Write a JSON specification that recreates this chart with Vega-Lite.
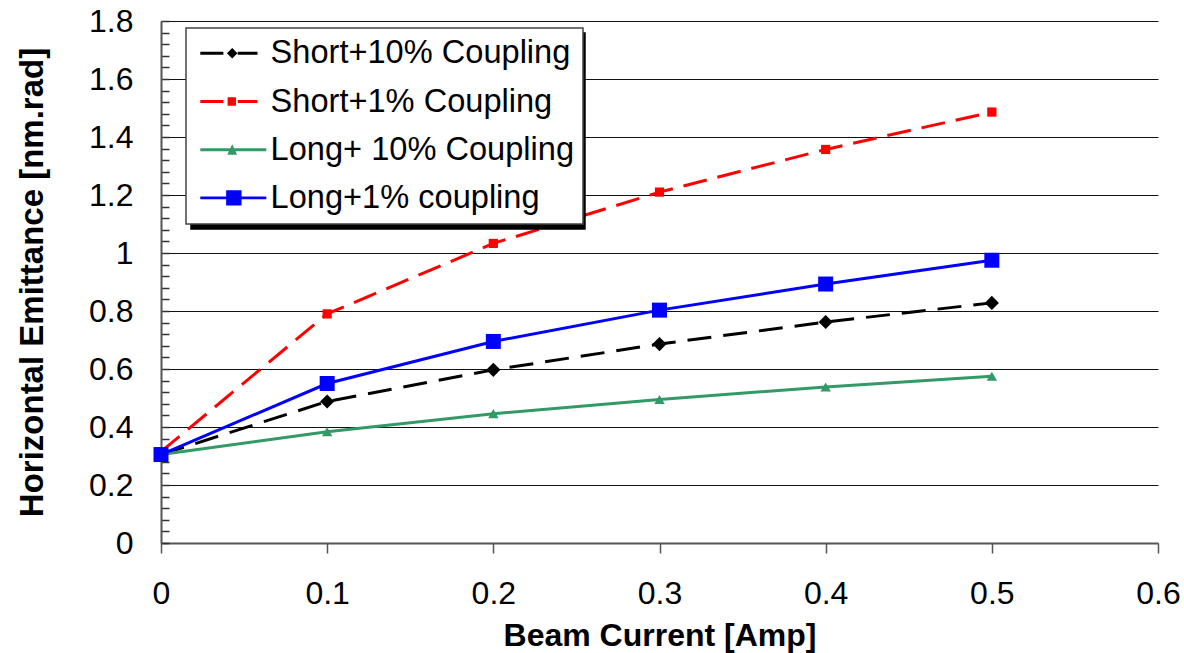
{
  "$schema": "https://vega.github.io/schema/vega-lite/v6.json",
  "width": 997,
  "height": 522,
  "autosize": "none",
  "padding": {"left": 161, "top": 21, "right": 26, "bottom": 110},
  "background": "white",
  "config": {
    "view": {"stroke": null},
    "font": "Liberation Sans",
    "axis": {"labelFont": "Liberation Sans", "titleFont": "Liberation Sans", "labelColor": "#000", "titleColor": "#000"},
    "legend": {"labelFont": "Liberation Sans", "strokeWidth": 1.5}
  },
  "data": {
    "values": [
      {"x": 0, "y": 0.305, "series": "Short+10% Coupling"},
      {"x": 0.1, "y": 0.488, "series": "Short+10% Coupling"},
      {"x": 0.2, "y": 0.597, "series": "Short+10% Coupling"},
      {"x": 0.3, "y": 0.686, "series": "Short+10% Coupling"},
      {"x": 0.4, "y": 0.762, "series": "Short+10% Coupling"},
      {"x": 0.5, "y": 0.828, "series": "Short+10% Coupling"},
      {"x": 0, "y": 0.315, "series": "Short+1% Coupling"},
      {"x": 0.1, "y": 0.79, "series": "Short+1% Coupling"},
      {"x": 0.2, "y": 1.033, "series": "Short+1% Coupling"},
      {"x": 0.3, "y": 1.21, "series": "Short+1% Coupling"},
      {"x": 0.4, "y": 1.357, "series": "Short+1% Coupling"},
      {"x": 0.5, "y": 1.486, "series": "Short+1% Coupling"},
      {"x": 0, "y": 0.305, "series": "Long+ 10% Coupling"},
      {"x": 0.1, "y": 0.384, "series": "Long+ 10% Coupling"},
      {"x": 0.2, "y": 0.446, "series": "Long+ 10% Coupling"},
      {"x": 0.3, "y": 0.495, "series": "Long+ 10% Coupling"},
      {"x": 0.4, "y": 0.538, "series": "Long+ 10% Coupling"},
      {"x": 0.5, "y": 0.575, "series": "Long+ 10% Coupling"},
      {"x": 0, "y": 0.305, "series": "Long+1% coupling"},
      {"x": 0.1, "y": 0.55, "series": "Long+1% coupling"},
      {"x": 0.2, "y": 0.695, "series": "Long+1% coupling"},
      {"x": 0.3, "y": 0.803, "series": "Long+1% coupling"},
      {"x": 0.4, "y": 0.893, "series": "Long+1% coupling"},
      {"x": 0.5, "y": 0.975, "series": "Long+1% coupling"}
    ]
  },
  "encoding": {
    "x": {
      "field": "x",
      "type": "quantitative",
      "scale": {"domain": [0, 0.6], "nice": false},
      "axis": {
        "values": [0, 0.1, 0.2, 0.3, 0.4, 0.5, 0.6],
        "format": "~g",
        "grid": false,
        "tickSize": 10,
        "tickColor": "#555",
        "tickWidth": 1.5,
        "domainColor": "#555",
        "domainWidth": 2,
        "labelFontSize": 32,
        "labelPadding": 25,
        "labelFlush": false,
        "title": "Beam Current [Amp]",
        "titleFontSize": 32,
        "titleFontWeight": "bold",
        "titleBaseline": "alphabetic",
        "titleY": 102,
        "titleX": 498.5,
        "titleAlign": "center"
      }
    },
    "y": {
      "field": "y",
      "type": "quantitative",
      "scale": {"domain": [0, 1.8], "nice": false},
      "axis": {
        "values": [0, 0.04, 0.08, 0.12, 0.16, 0.2, 0.24, 0.28, 0.32, 0.36, 0.4, 0.44, 0.48, 0.52, 0.56, 0.6, 0.64, 0.68, 0.72, 0.76, 0.8, 0.84, 0.88, 0.92, 0.96, 1, 1.04, 1.08, 1.12, 1.16, 1.2, 1.24, 1.28, 1.32, 1.36, 1.4, 1.44, 1.48, 1.52, 1.56, 1.6, 1.64, 1.68, 1.72, 1.76, 1.8],
        "labelExpr": "abs(datum.value * 5 - round(datum.value * 5)) < 0.001 ? format(datum.value, '~g') : ''",
        "grid": true,
        "gridColor": "#111",
        "gridWidth": 1,
        "gridOpacity": {"condition": {"test": "abs(datum.value * 5 - round(datum.value * 5)) < 0.001", "value": 1}, "value": 0},
        "ticks": true,
        "tickSize": -8,
        "tickColor": "#333",
        "tickWidth": 1.5,
        "domainColor": "#555",
        "domainWidth": 2,
        "labelFontSize": 32,
        "labelPadding": 36,
        "labelFlush": false,
        "labelOverlap": false,
        "title": "Horizontal Emittance [nm.rad]",
        "titleFontSize": 33,
        "titleFontWeight": "bold",
        "titleBaseline": "alphabetic",
        "titleAngle": -90,
        "titleX": -119,
        "titleY": 261,
        "titleAlign": "center"
      }
    }
  },
  "layer": [
    {
      "transform": [{"filter": "datum.series === 'Short+10% Coupling'"}],
      "mark": {"type": "line", "color": "#000000", "strokeWidth": 3, "strokeDash": [24, 12],
               "point": {"shape": "diamond", "filled": true, "size": 200, "color": "#000000", "opacity": 1}}
    },
    {
      "transform": [{"filter": "datum.series === 'Short+1% Coupling'"}],
      "mark": {"type": "line", "color": "#FF0000", "strokeWidth": 3, "strokeDash": [24, 11],
               "point": {"shape": "square", "filled": true, "size": 85, "color": "#FF0000", "opacity": 1}}
    },
    {
      "transform": [{"filter": "datum.series === 'Long+ 10% Coupling'"}],
      "mark": {"type": "line", "color": "#339966", "strokeWidth": 3,
               "point": {"shape": "triangle-up", "filled": true, "size": 110, "color": "#339966", "opacity": 1}}
    },
    {
      "transform": [{"filter": "datum.series === 'Long+1% coupling'"}],
      "mark": {"type": "line", "color": "#0000FF", "strokeWidth": 3,
               "point": {"shape": "square", "filled": true, "size": 225, "color": "#0000FF", "opacity": 1}}
    },
    {
      "mark": {"type": "point", "filled": true, "opacity": 0},
      "encoding": {
        "color": {
          "field": "series",
          "type": "nominal",
          "scale": {
            "domain": ["Short+10% Coupling", "Short+1% Coupling", "Long+ 10% Coupling", "Long+1% coupling"],
            "range": ["#000000", "#FF0000", "#339966", "#0000FF"]
          },
          "legend": {
            "orient": "none",
            "legendX": 25,
            "legendY": 7,
            "zindex": 2,
            "title": null,
            "labelFontSize": 32.6,
            "labelColor": "#000",
            "labelLimit": 500,
            "labelOffset": 43,
            "symbolSize": 484,
            "symbolOpacity": 1,
            "symbolStrokeWidth": 0,
            "rowPadding": 15.2,
            "padding": 9,
            "fillColor": "white",
            "strokeColor": "#444"
          }
        },
        "shape": {
          "field": "series",
          "type": "nominal",
          "scale": {
            "domain": ["Short+10% Coupling", "Short+1% Coupling", "Long+ 10% Coupling", "Long+1% coupling"],
            "range": [
              "M-1,-0.13H1.1V0.13H-1Z M2.4,-0.13H4.2V0.13H2.4Z M1.9,-0.48L2.38,0L1.9,0.48L1.42,0Z",
              "M-1,-0.13H1.1V0.13H-1Z M2.4,-0.13H4.2V0.13H2.4Z M1.48,-0.38H2.24V0.38H1.48Z",
              "M-1,-0.13H5V0.13H-1Z M1.9,-0.5L2.35,0.45L1.45,0.45Z",
              "M-1,-0.13H5V0.13H-1Z M1.35,-0.7H2.75V0.7H1.35Z"
            ]
          },
          "legend": {
            "orient": "none",
            "legendX": 25,
            "legendY": 7,
            "zindex": 2,
            "title": null,
            "labelFontSize": 32.6,
            "labelColor": "#000",
            "labelLimit": 500,
            "labelOffset": 43,
            "symbolSize": 484,
            "symbolOpacity": 1,
            "symbolStrokeWidth": 0,
            "rowPadding": 15.2,
            "padding": 9,
            "fillColor": "white",
            "strokeColor": "#444"
          }
        },
        "strokeDash": {
          "field": "series",
          "type": "nominal",
          "legend": {
            "orient": "none",
            "legendX": 30,
            "legendY": 12,
            "zindex": 1,
            "title": null,
            "labelFontSize": 32.6,
            "labelExpr": "''",
            "labelColor": "#000",
            "labelLimit": 500,
            "labelOffset": 343,
            "symbolSize": 484,
            "symbolOpacity": 1,
            "symbolStrokeColor": "#000",
            "symbolFillColor": "#000",
            "rowPadding": 15.2,
            "padding": 9,
            "fillColor": "#000",
            "strokeColor": "#000"
          }
        }
      }
    }
  ]
}
